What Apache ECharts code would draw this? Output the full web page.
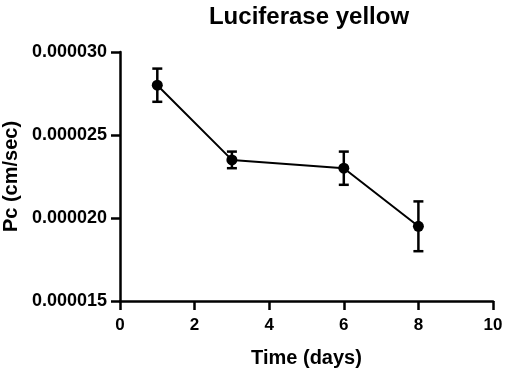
<!DOCTYPE html>
<html>
<head>
<meta charset="utf-8">
<script src="https://cdn.jsdelivr.net/npm/echarts@6/dist/echarts.min.js"></script>
<style>
  html, body { margin: 0; padding: 0; background: #fff; }
  #main { width: 505px; height: 370px; }
</style>
</head>
<body>
<div id="main"></div>
<script>
// data
var days = [1, 3, 6, 8];
var pc = [0.000028, 0.0000235, 0.000023, 0.0000195];
var pcErr = [0.000001, 0.0000005, 0.000001, 0.0000015];

var FONT = '"Liberation Sans", Arial, sans-serif';

var points = [];
var bars = [];
for (var i = 0; i < days.length; i++) {
    points.push([days[i], pc[i]]);
    bars.push([days[i], pc[i] - pcErr[i], pc[i] + pcErr[i]]);
}

var chart = echarts.init(document.getElementById('main'));
chart.setOption({
    animation: false,
    title: {
        text: 'Luciferase yellow',
        left: 304,
        textAlign: 'center',
        top: 0,
        textStyle: { fontFamily: FONT, fontSize: 24, fontWeight: 'bold', color: '#000' }
    },
    grid: { left: 120, right: 12, top: 52, bottom: 69, outerBoundsMode: 'none' },
    xAxis: {
        type: 'value',
        min: 0, max: 10, interval: 2,
        name: 'Time (days)',
        nameLocation: 'middle',
        nameGap: 47,
        nameTextStyle: { fontFamily: FONT, fontSize: 20, fontWeight: 'bold', color: '#000' },
        axisLine: { lineStyle: { color: '#000', width: 2.5 } },
        axisTick: { show: true, length: 9, lineStyle: { color: '#000', width: 2.5 } },
        axisLabel: { fontFamily: FONT, fontSize: 17, fontWeight: 'bold', color: '#000', margin: 16 },
        splitLine: { show: false }
    },
    yAxis: {
        type: 'value',
        min: 0.000015, max: 0.00003, interval: 0.000005,
        name: 'Pc (cm/sec)',
        nameLocation: 'middle',
        nameGap: 98,
        nameTextStyle: { fontFamily: FONT, fontSize: 20, fontWeight: 'bold', color: '#000' },
        axisLine: { show: true, lineStyle: { color: '#000', width: 2.5 } },
        axisTick: { show: true, length: 9, lineStyle: { color: '#000', width: 2.5 } },
        axisLabel: {
            fontFamily: FONT, fontSize: 18, fontWeight: 'bold', color: '#000', margin: 13,
            formatter: function (v) { return v.toFixed(6); }
        },
        splitLine: { show: false }
    },
    series: [
        {
            type: 'custom',
            data: bars,
            z: 3,
            renderItem: function (params, api) {
                var x = api.value(0);
                var lo = api.coord([x, api.value(1)]);
                var hi = api.coord([x, api.value(2)]);
                var w = 5;
                var style = { stroke: '#000', lineWidth: 2.5, fill: null };
                return {
                    type: 'group',
                    children: [
                        { type: 'line', shape: { x1: lo[0], y1: lo[1], x2: hi[0], y2: hi[1] }, style: style },
                        { type: 'line', shape: { x1: lo[0] - w, y1: lo[1], x2: lo[0] + w, y2: lo[1] }, style: style },
                        { type: 'line', shape: { x1: hi[0] - w, y1: hi[1], x2: hi[0] + w, y2: hi[1] }, style: style }
                    ]
                };
            }
        },
        {
            type: 'line',
            data: points,
            z: 4,
            symbol: 'circle',
            symbolSize: 11,
            itemStyle: { color: '#000' },
            lineStyle: { color: '#000', width: 2 }
        }
    ]
});
</script>
</body>
</html>
